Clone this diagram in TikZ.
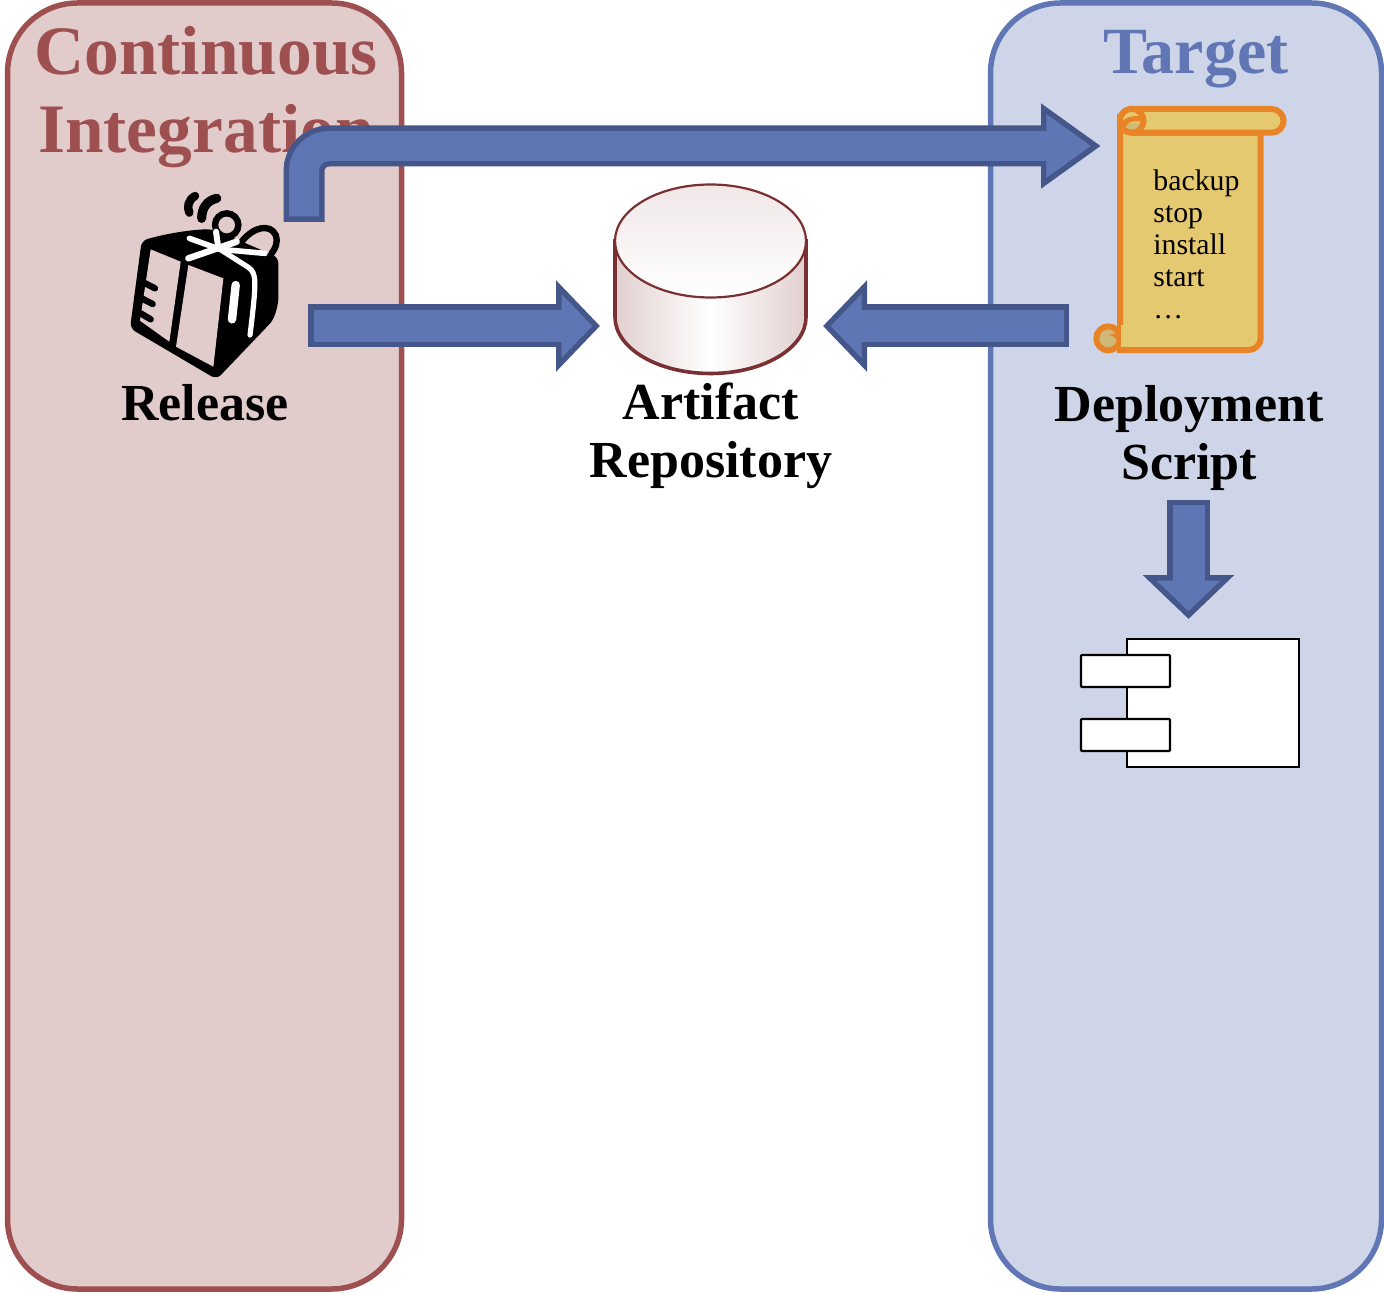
\documentclass[tikz,border=0pt]{standalone}
\usepackage{fontspec}
\setmainfont{Liberation Serif}
\usepackage{tikz}
\usetikzlibrary{arrows.meta}
\definecolor{cired}{RGB}{158,80,80}
\definecolor{cifill}{RGB}{226,203,203}
\definecolor{tgblue}{RGB}{96,118,181}
\definecolor{tgfill}{RGB}{207,213,232}
\definecolor{flowfill}{RGB}{95,118,180}
\definecolor{flowline}{RGB}{69,87,138}
\definecolor{repoline}{RGB}{122,48,50}
\definecolor{repoface}{RGB}{226,207,207}
\definecolor{scrollfill}{RGB}{229,201,112}
\definecolor{scrollline}{RGB}{232,132,38}
\definecolor{scrollcurl}{RGB}{208,184,120}
\tikzset{
  lane/.style={rectangle,rounded corners=35pt,line width=2.75pt,minimum width=197pt,minimum height=643pt},
  title/.style={font=\fontsize{34.7}{39}\selectfont\bfseries,align=center},
  caption/.style={font=\fontsize{26}{29}\selectfont\bfseries,align=center,text=black},
  holder/.style={rectangle,inner sep=0pt},
  flowarrow/.style={line width=16pt,flowfill,shorten <=2.75pt,shorten >=3.85pt,-{Triangle[length=15.4pt,width=31pt]},
    preaction={draw=flowline,line width=21.5pt,shorten <=0pt,shorten >=0pt,-{Triangle[length=22pt,width=44.5pt]}}},
  longarrow/.style={line width=15pt,flowfill,rounded corners=12.5pt,shorten <=2.75pt,shorten >=4.9pt,-{Triangle[length=22.4pt,width=30.2pt]},
    preaction={draw=flowline,line width=20.5pt,rounded corners=12.5pt,shorten <=0pt,shorten >=0pt,-{Triangle[length=30pt,width=40.5pt]}}},
  port/.style={rectangle,draw=black,fill=white,line width=1.2pt,rounded corners=0.5pt,minimum width=44.5pt,minimum height=16pt,inner sep=0pt},
}
\begin{document}
\begin{tikzpicture}[x=0.5pt,y=-0.5pt]
  \useasboundingbox (0,0) rectangle (1384,1293);
  % lanes
  \node (cilane) at (204.5,646) [lane,draw=cired,fill=cifill] {};
  \node (tglane) at (1186,646) [lane,draw=tgblue,fill=tgfill,minimum width=195.5pt] {};
  \node (cititle) at (206,97) [title,text=cired] {Continuous\\Integration};
  \node (tgtitle) at (1196,59) [title,text=tgblue,font=\fontsize{33}{39}\selectfont\bfseries] {Target};
  % release
  \node (gift) at (206,285) [holder,minimum width=76pt,minimum height=95pt] {};
  \begin{scope}[shift={(110,170)},x=0.1667pt,y=-0.1667pt]
    \draw[line width=3.2pt,black,line cap=round] (350,165) circle (35);
    \draw[line width=3.2pt,black,line cap=round] (395,215) .. controls (430,170) and (480,160) .. (497,195) .. controls (505,220) and (495,235) .. (485,250);
    \draw[line width=4.2pt,black,line cap=round] (255,78) .. controls (235,90) and (230,110) .. (238,128);
    \draw[line width=4.6pt,black,line cap=round] (320,85) .. controls (290,92) and (275,115) .. (275,145);
    \fill[black,rounded corners=3pt] (95,212) .. controls (170,190) and (250,178) .. (310,178) -- (505,262) -- (505,400) -- (490,450) -- (320,628) -- (60,475) -- cycle;
    \fill[cifill] (122,238) -- (212,275) -- (178,515) -- (90,452) -- cycle;
    \fill[cifill] (235,285) -- (340,325) -- (310,590) -- (198,530) -- cycle;
    \draw[line width=3.2pt,black,line cap=round] (100,337) -- (135,355);
    \draw[line width=3.2pt,black,line cap=round] (95,385) -- (128,402);
    \draw[line width=3.2pt,black,line cap=round] (92,430) -- (122,448);
    \draw[line width=2.8pt,white,line cap=round] (238,205) -- (330,238) -- (465,250);
    \draw[line width=3pt,white,line cap=round] (318,185) -- (325,235);
    \draw[line width=3.2pt,white,line cap=round] (235,265) -- (380,215);
    \draw[line width=2.6pt,white,line cap=round] (330,238) -- (415,292) .. controls (440,310) and (440,330) .. (420,495);
    \draw[line width=4.2pt,white,line cap=round] (377,345) -- (366,448);
  \end{scope}
  \node (release) at (205,403) [caption] {Release};
  % repository
  \node (repo) at (711.5,279.5) [holder,minimum width=95.5pt,minimum height=95.5pt,outer sep=8pt] {};
  \path[left color=repoface,right color=repoface,middle color=white,draw=repoline,line width=1.8pt]
    (615,241) -- (615,317) arc[start angle=180,end angle=360,x radius=95.5,y radius=-56.5] -- (806,241) -- cycle;
  \path[top color=repoface!50,bottom color=white,draw=repoline,line width=1.1pt] (710.5,241) ellipse[x radius=95.5,y radius=56.5];
  \node (repolabel) at (711,436) [caption] {Artifact\\Repository};
  % script
  \node (script) at (1190,229) [holder,minimum width=95pt,minimum height=123pt] {};
  \begin{scope}[shift={(1080,90)},x=0.1667pt,y=-0.1667pt]
    \draw[scrollline,fill=scrollfill,line width=3pt] (120,92) -- (120,780) -- (505,780) arc[start angle=90,end angle=0,radius=37] -- (542,128) -- (155,128) -- cycle;
    \draw[scrollline,fill=scrollfill,line width=3pt] (155,57) -- (575,57) arc[start angle=-90,end angle=90,radius=35.5] -- (155,128) arc[start angle=90,end angle=270,radius=35.5] -- cycle;
    % curls
    \draw[scrollline,fill=scrollfill,line width=3pt] (155,92) circle (35.5);
    \fill[scrollcurl] (138,100) -- (178,100) .. controls (178,112) and (168,118) .. (155,118) .. controls (145,118) and (138,110) .. (138,100);
    \draw[scrollline,line width=2.6pt] (130,108) .. controls (132,90) and (160,82) .. (190,88);
    \draw[scrollline,fill=scrollcurl,line width=3pt] (85,745) circle (36);
    \fill[scrollline] (85,735) -- (125,725) -- (125,760) -- (105,762) .. controls (118,752) and (105,735) .. (85,735);
    \fill[scrollfill] (124,706) rectangle (133,771);
  \end{scope}
  \node (scripttext) at (1153,169) [anchor=north west,inner sep=0pt,align=left,font=\fontsize{14.9}{16}\selectfont,text=black] {backup\\stop\\install\\start\\\dots};
  \node (scriptlabel) at (1189,438) [caption] {Deployment\\Script};
  % component
  \node (comp) at (1213,703) [rectangle,draw=black,fill=white,line width=1.2pt,minimum width=86pt,minimum height=64pt,inner sep=0pt,outer sep=10pt] {};
  \node (portup) at (1125.5,671) [port] {};
  \node (portdown) at (1125.5,735) [port] {};
  % flows
  \coordinate (releaseup) at (304,222);
  \coordinate (releaseout) at (308,326);
  \coordinate (scriptin) at (1101,146);
  \coordinate (scriptout) at (1069,326);
  \coordinate (labelout) at (1188.5,500);
  \draw[longarrow] (releaseup) |- (scriptin);
  \draw[flowarrow] (releaseout) -- (repo.west |- releaseout);
  \draw[flowarrow] (scriptout) -- (repo.east |- scriptout);
  \draw[flowarrow] (labelout) -- (comp.north -| labelout);
\end{tikzpicture}
\end{document}
